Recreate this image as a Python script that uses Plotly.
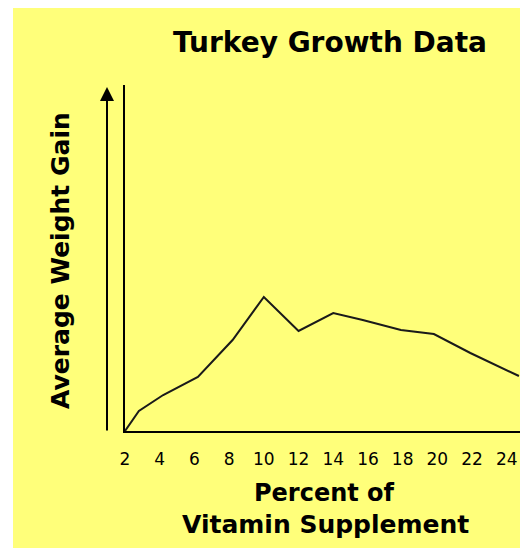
import plotly.graph_objects as go

# Data (y in arbitrary units)
percent = [2, 2.8, 4.2, 6.2, 8.2, 10, 12, 14, 15.7, 17.9, 19.8, 21.9, 24.7]
weight_gain = [0, 20, 36, 54, 91, 134, 100, 118, 111, 101, 97, 78, 55]
tick_vals = [2, 4, 6, 8, 10, 12, 14, 16, 18, 20, 22, 24]
tick_text = [str(v) for v in tick_vals]

# page body adds an 8px offset; work in screenshot coordinates
OFF = 8
W, H = 528 - OFF, 548 - OFF
PLOT_L, PLOT_R, PLOT_T, PLOT_B = 125, 525, 85, 431  # screenshot px
L = PLOT_L - OFF
R = W - (PLOT_R - OFF)
T = PLOT_T - OFF
B = H - (PLOT_B - OFF)
PW = PLOT_R - PLOT_L
PH = PLOT_B - PLOT_T

def px_x(p):
    return (p - PLOT_L) / PW

def px_y(p):
    return (PLOT_B - p) / PH

FONT = "DejaVu Sans"

fig = go.Figure()
fig.add_trace(go.Scatter(
    x=percent, y=weight_gain, mode="lines",
    line=dict(color="#1a1a1a", width=2), hoverinfo="skip", showlegend=False,
))

fig.update_layout(
    width=W, height=H,
    margin=dict(l=L, r=R, t=T, b=B, pad=0),
    paper_bgcolor="white",
    plot_bgcolor="rgba(0,0,0,0)",
    xaxis=dict(
        range=[2, 25.05], showgrid=False, zeroline=False,
        showline=True, linecolor="black", linewidth=2,
        tickmode="array", tickvals=tick_vals, ticktext=tick_text,
        ticks="", ticklabelstandoff=12,
        tickfont=dict(family=FONT, size=17, color="black"),
    ),
    yaxis=dict(
        range=[0, PH], showgrid=False, zeroline=False,
        showline=True, linecolor="black", linewidth=2,
        showticklabels=False, ticks="",
    ),
    shapes=[dict(
        type="rect", xref="paper", yref="paper", layer="below",
        x0=px_x(13), x1=px_x(540), y0=px_y(560), y1=px_y(5),
        fillcolor="#FFFF7A", line=dict(width=0),
    )],
    annotations=[
        dict(text="<b>Turkey Growth Data</b>", xref="paper", yref="paper",
             x=px_x(330), y=px_y(42), xanchor="center", yanchor="middle",
             showarrow=False, font=dict(family=FONT, size=28, color="black")),
        dict(text="<b>Average Weight Gain</b>", xref="paper", yref="paper",
             x=px_x(60), y=px_y(261), xanchor="center", yanchor="middle",
             textangle=-90, showarrow=False,
             font=dict(family=FONT, size=25, color="black")),
        dict(text="<b>Percent of</b>", xref="paper", yref="paper",
             x=px_x(324), y=px_y(493), xanchor="center", yanchor="middle",
             showarrow=False, font=dict(family=FONT, size=24, color="black")),
        dict(text="<b>Vitamin Supplement</b>", xref="paper", yref="paper",
             x=px_x(325), y=px_y(524), xanchor="center", yanchor="middle",
             showarrow=False, font=dict(family=FONT, size=25, color="black")),
        dict(text="", xref="paper", yref="paper",
             x=px_x(107), y=px_y(87), ax=0, ay=432 - 87,
             showarrow=True, arrowhead=2, arrowsize=1.4, arrowwidth=2,
             arrowcolor="black"),
    ],
)

fig.write_html("out.html")
